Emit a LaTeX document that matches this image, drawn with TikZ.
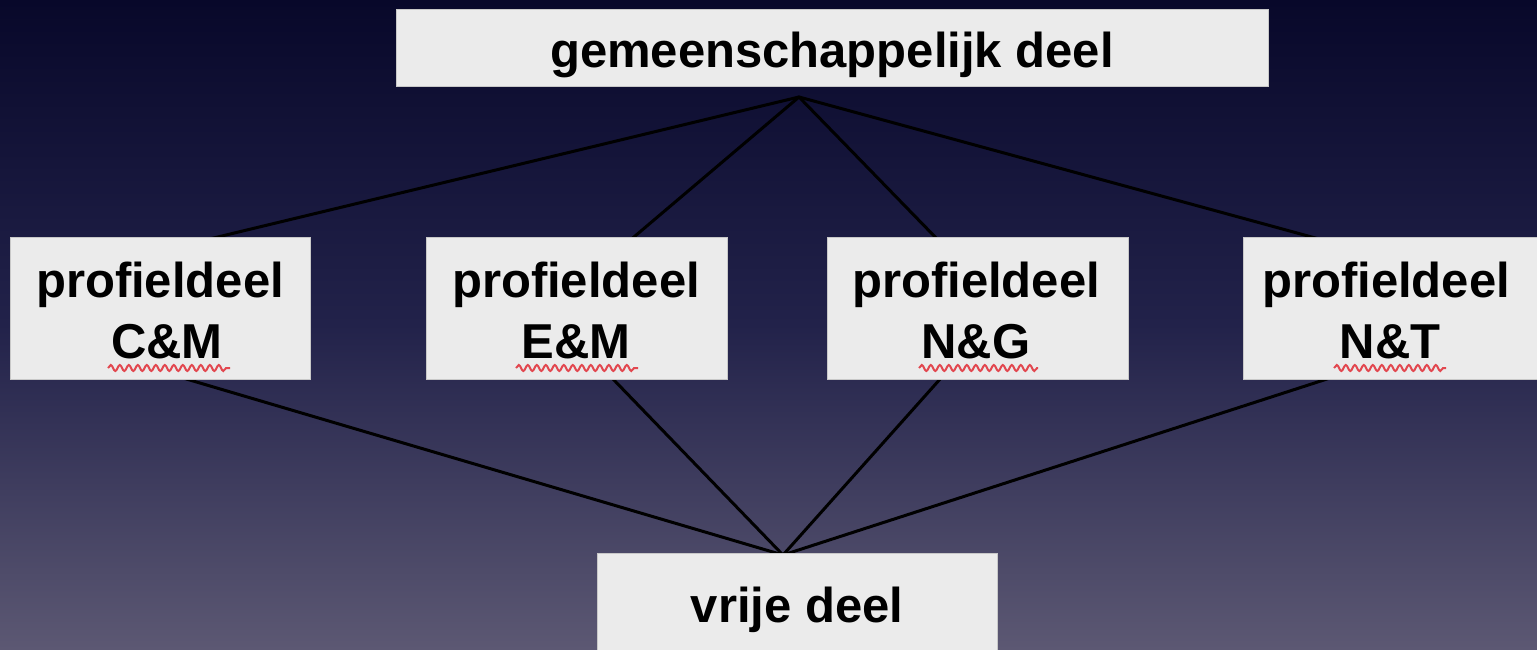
\documentclass[tikz,border=0pt]{standalone}
\usepackage{fontspec}
\setmainfont{Liberation Sans}
\usetikzlibrary{decorations.pathmorphing}
\definecolor{bgtop}{HTML}{08082A}
\definecolor{bgmid}{HTML}{22224A}
\definecolor{bgbot}{HTML}{5C5873}
\definecolor{boxfill}{HTML}{EBEBEB}
\definecolor{squig}{HTML}{E2474F}
\tikzset{
  box/.style={fill=boxfill, draw=boxfill!85!black, line width=0.4pt},
  lbl/.style={font=\fontsize{49}{58}\selectfont\bfseries, text=black, inner sep=0pt, anchor=base},
  conn/.style={draw=black, line width=3pt, line cap=round},
  spell/.style={draw=squig, line width=2pt, decorate, decoration={snake, segment length=9pt, amplitude=3pt}}
}
\begin{document}
\begin{tikzpicture}[x=1pt, y=-1pt]
\useasboundingbox (0,0) rectangle (1537,649);
\shade[top color=bgtop, bottom color=bgbot, middle color=bgmid] (0,0) rectangle (1537,649);

% connection points
\coordinate (apexT) at (799,97);
\coordinate (apexB) at (783,555);
\coordinate (cmT) at (197,242);
\coordinate (emT) at (628,242);
\coordinate (ngT) at (940,242);
\coordinate (ntT) at (1330,242);
\coordinate (cmB) at (183,378);
\coordinate (emB) at (612,378);
\coordinate (ngB) at (941,378);
\coordinate (ntB) at (1330,378);

\draw[conn] (apexT) -- (cmT);
\draw[conn] (apexT) -- (emT);
\draw[conn] (apexT) -- (ngT);
\draw[conn] (apexT) -- (ntT);
\draw[conn] (cmB) -- (apexB);
\draw[conn] (emB) -- (apexB);
\draw[conn] (ngB) -- (apexB);
\draw[conn] (ntB) -- (apexB);

% boxes
\path[box] (396,9) rectangle (1268,86);
\path[box] (10,237) rectangle (310,379);
\path[box] (426,237) rectangle (727,379);
\path[box] (827,237) rectangle (1128,379);
\path[box] (1243,237) rectangle (1540,379);
\path[box] (597,553) rectangle (997,652);

% texts
\node[lbl] (top) at (832,67) {gemeenschappelijk deel};
\node[lbl] (cm1) at (160,297) {profieldeel};
\node[lbl] (cm2) at (167,358) {C\&M};
\node[lbl] (em1) at (576,297) {profieldeel};
\node[lbl] (em2) at (576,358) {E\&M};
\node[lbl] (ng1) at (976,297) {profieldeel};
\node[lbl] (ng2) at (976,358) {N\&G};
\node[lbl] (nt1) at (1386,297) {profieldeel};
\node[lbl] (nt2) at (1390,358) {N\&T};
\node[lbl] (vrij) at (797,622) {vrije deel};

% spelling squiggles
\draw[spell] (108,368) -- (230,368);
\draw[spell] (516,368) -- (638,368);
\draw[spell] (919,368) -- (1038,368);
\draw[spell] (1334,368) -- (1446,368);
\end{tikzpicture}
\end{document}
